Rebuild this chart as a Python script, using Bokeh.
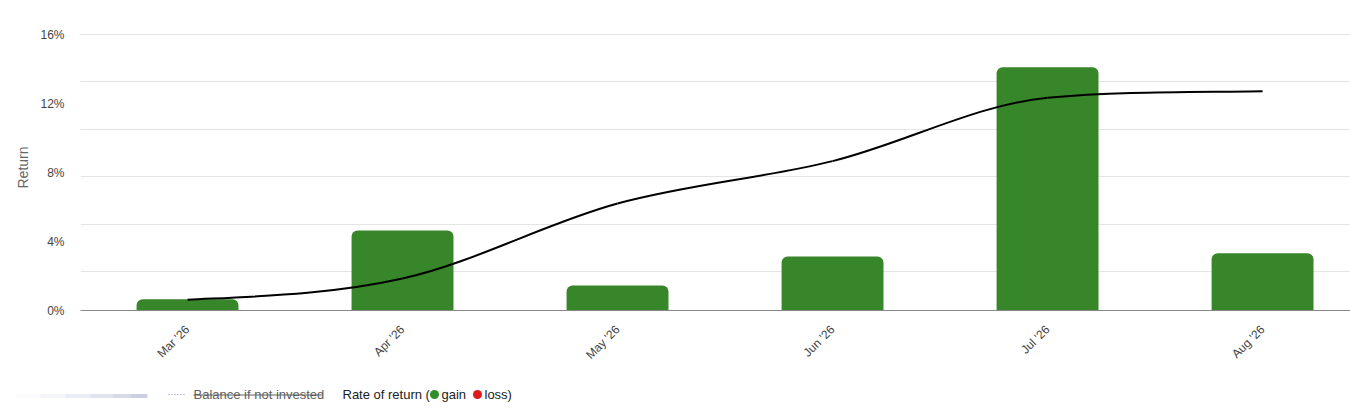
import math
import numpy as np
from bokeh.plotting import figure
from bokeh.models import FixedTicker, Range1d, ColumnDataSource, PrintfTickFormatter
from bokeh.embed import file_html
from bokeh.resources import INLINE
from bokeh.core.properties import value

# ---- data ----
months = ["Mar '26", "Apr '26", "May '26", "Jun '26", "Jul '26", "Aug '26"]
rate_of_return = [0.65, 4.64, 1.45, 3.13, 14.1, 3.32]      # monthly bars, %
cumulative_return = [0.62, 1.85, 6.2, 8.66, 12.33, 12.71]  # smooth black line, %
y_ticks = [0, 4, 8, 12, 16]
grid_levels = [2.25, 5.0, 7.75, 10.5, 13.25, 16.0]
legend_balance = "Balance if not invested"
legend_rate = "Rate of return ("
legend_gain = "gain"
legend_loss = "loss)"

FONT = "Liberation Sans"
GREEN = "#38862a"

xs = list(range(len(months)))

p = figure(width=1350, height=370, output_backend="svg", toolbar_location=None,
           x_range=Range1d(-0.4977, 5.409), y_range=Range1d(0, 16.58),
           min_border_left=80, min_border_right=0, min_border_top=24,
           min_border_bottom=60)
p.outline_line_color = None
p.background_fill_color = "white"
p.border_fill_color = "white"

# bars
bar_src = ColumnDataSource(dict(x=xs, top=rate_of_return))
p.vbar(x="x", top="top", width=0.474, source=bar_src, fill_color=GREEN,
       line_color=None, border_radius=(6, 6, 0, 0))

# smooth line through cumulative values (cubic Bezier segments,
# Catmull-Rom tangents limited so the curve stays monotone)
yv = np.array(cumulative_return, dtype=float)
xv = np.array(xs, dtype=float)
n = len(yv)
d = np.diff(yv)
m = np.zeros(n)
for i in range(1, n - 1):
    m[i] = min((yv[i + 1] - yv[i - 1]) / 2.0, 3 * d[i - 1], 3 * d[i])
m[0] = 0.5 * d[0]
m[-1] = 0.5 * d[-1]
line_src = ColumnDataSource(dict(
    x0=xv[:-1], y0=yv[:-1], x1=xv[1:], y1=yv[1:],
    cx0=xv[:-1] + 1 / 3, cy0=yv[:-1] + m[:-1] / 3,
    cx1=xv[1:] - 1 / 3, cy1=yv[1:] - m[1:] / 3,
))
p.bezier(x0="x0", y0="y0", x1="x1", y1="y1", cx0="cx0", cy0="cy0",
         cx1="cx1", cy1="cy1", source=line_src, line_color="black", line_width=2)

# grids
p.xgrid.visible = False
p.ygrid.ticker = FixedTicker(ticks=grid_levels)
p.ygrid.grid_line_color = "#e4e4e4"
p.ygrid.grid_line_width = 1

# y axis
p.yaxis.ticker = FixedTicker(ticks=y_ticks)
p.yaxis.formatter = PrintfTickFormatter(format="%d%%")
p.yaxis.axis_line_color = None
p.yaxis.major_tick_line_color = None
p.yaxis.minor_tick_line_color = None
p.yaxis.major_tick_out = 0
p.yaxis.major_label_standoff = 16
p.yaxis.major_label_text_font = FONT
p.yaxis.major_label_text_font_size = "12px"
p.yaxis.major_label_text_color = "#444444"
p.yaxis.axis_label = "Return"
p.yaxis.axis_label_text_font = FONT
p.yaxis.axis_label_text_font_size = "14px"
p.yaxis.axis_label_text_font_style = "normal"
p.yaxis.axis_label_text_color = "#666666"
p.yaxis.axis_label_standoff = 6

# x axis
p.xaxis.ticker = FixedTicker(ticks=xs)
p.xaxis.major_label_overrides = {i: lab for i, lab in enumerate(months)}
p.xaxis.major_label_orientation = math.pi / 4
p.xaxis.axis_line_color = "#888888"
p.xaxis.axis_line_width = 1
p.xaxis.major_tick_line_color = None
p.xaxis.minor_tick_line_color = None
p.xaxis.major_tick_out = 0
p.xaxis.major_label_standoff = 17
p.xaxis.major_label_text_font = FONT
p.xaxis.major_label_text_font_size = "12px"
p.xaxis.major_label_text_color = "#444444"

# ---- legend strip (separate root, page y 370..410) ----
leg = figure(width=1350, height=40, output_backend="svg", toolbar_location=None,
             x_range=Range1d(0, 1350), y_range=Range1d(0, 40),
             min_border=0, x_axis_type=None, y_axis_type=None)
leg.outline_line_color = None
leg.grid.visible = False
leg.background_fill_color = "white"
leg.border_fill_color = "white"

LY = 16  # legend text centre
LFS = value("13px")

# faded, partly hidden first item
fx0 = [15, 40, 65, 90, 112, 130]
fx1 = [40, 65, 90, 112, 130, 147]
fal = [0.06, 0.15, 0.27, 0.4, 0.55, 0.7]
leg.segment(x0=fx0, y0=[LY - 1.5] * 6, x1=fx1, y1=[LY - 1.5] * 6, line_color="#b4bcd6",
            line_alpha=fal, line_width=4)

leg.segment(x0=[168], y0=[LY], x1=[186], y1=[LY], line_color="#8f8bd6",
            line_width=1, line_dash="1 2")
leg.text(x=[193], y=[LY], text=[legend_balance], text_font=value(FONT),
         text_font_size=LFS, text_color="#5f5f5f", text_baseline="middle")
leg.segment(x0=[193], y0=[LY - 0.5], x1=[322], y1=[LY - 0.5], line_color="#5f5f5f", line_width=1)

leg.text(x=[342], y=[LY], text=[legend_rate], text_font=value(FONT),
         text_font_size=LFS, text_color="#222222", text_baseline="middle")
leg.scatter(x=[434], y=[LY], size=9, fill_color="#2f8f2a", line_color=None)
leg.text(x=[441], y=[LY], text=[legend_gain], text_font=value(FONT),
         text_font_size=LFS, text_color="#222222", text_baseline="middle")
leg.scatter(x=[477], y=[LY], size=9, fill_color="#e0191b", line_color=None)
leg.text(x=[484], y=[LY], text=[legend_loss], text_font=value(FONT),
         text_font_size=LFS, text_color="#222222", text_baseline="middle")

open("out.html", "w").write(file_html([p, leg], INLINE))
